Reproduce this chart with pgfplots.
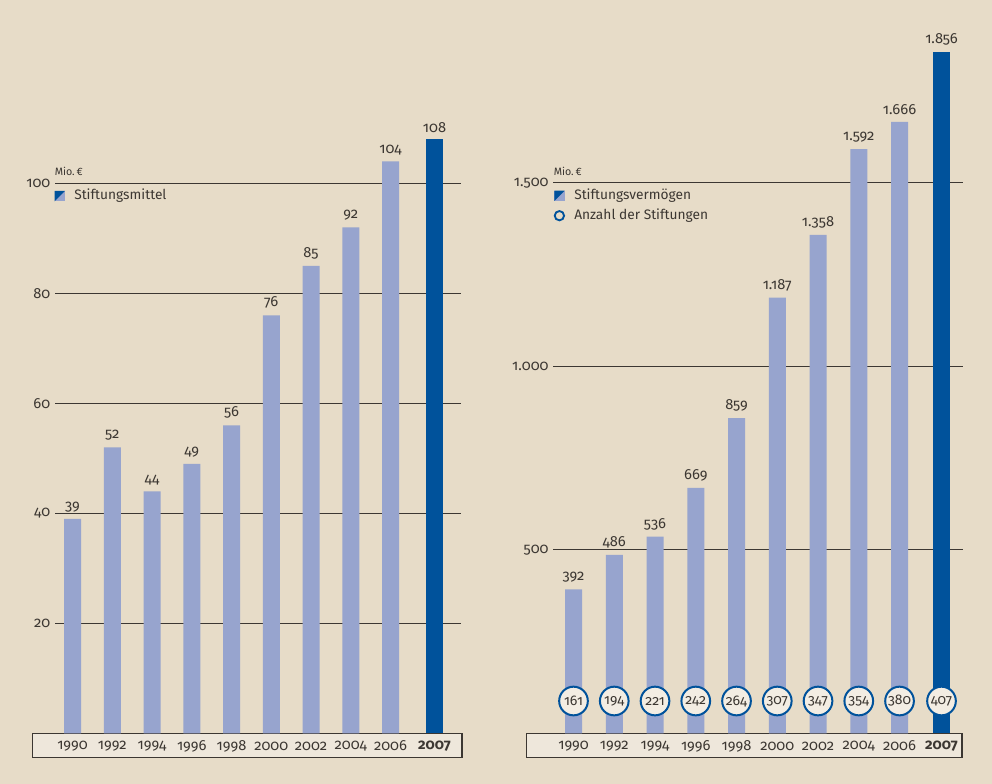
\documentclass[border=0pt]{standalone}
\usepackage{fontspec}
\setmainfont{Fira Sans}[Numbers=OldStyle]
\usepackage{pgfplots}
\pgfplotsset{compat=1.18}

\definecolor{bg}{RGB}{231,220,200}
\definecolor{boxfill}{RGB}{238,231,219}
\definecolor{barlight}{RGB}{151,164,206}
\definecolor{bardark}{RGB}{0,82,155}
\definecolor{ink}{RGB}{60,55,50}
\definecolor{circfill}{RGB}{243,237,227}

\pgfplotsset{
  panel/.style={
    scale only axis, clip=false,
    axis line style={draw=none},
    major tick length=0pt,
    ymin=0, ymajorgrids,
    grid style={ink, line width=0.9pt},
    tick label style={font=\fontsize{11}{13}\selectfont, text=ink},
    /pgf/number format/assume math mode=true,
    /pgf/number format/1000 sep={.},
    xticklabel style={anchor=center, yshift=-9.5pt},
  },
  lightbar/.style={ybar, bar width=12.75pt, bar shift=0pt, fill=barlight, draw=none,
    nodes near coords, every node near coord/.append style={font=\fontsize{11}{13}\selectfont, text=ink, yshift=1.5pt}},
  darkbar/.style={lightbar, fill=bardark},
}

\begin{document}
\begin{tikzpicture}
\fill[bg] (0,0) rectangle (744pt,-588pt);

\begin{scope}[x=0.75pt, y=-0.75pt]
  % boxes under the year labels
  \draw[ink, line width=0.9pt, fill=boxfill] (32.3,733.3) rectangle (462,757.3);
  \draw[ink, line width=0.9pt, fill=boxfill] (526.3,733.3) rectangle (962,757.3);
  % left legend
  \node[anchor=west, inner sep=0pt, text=ink, font=\fontsize{8}{9}\selectfont] at (54.5,171) {Mio.\,€};
  \fill[barlight] (54.5,191) rectangle (65,201.5);
  \fill[bardark] (54.5,191) -- (65,191) -- (54.5,201.5) -- cycle;
  \node[anchor=west, inner sep=0pt, text=ink, font=\fontsize{10.3}{12}\selectfont] at (74,196) {Stiftungsmittel};
  % right legend
  \node[anchor=west, inner sep=0pt, text=ink, font=\fontsize{8}{9}\selectfont] at (553.5,171) {Mio.\,€};
  \fill[barlight] (554.3,190.7) rectangle (564.6,201);
  \fill[bardark] (554.3,190.7) -- (564.6,190.7) -- (554.3,201) -- cycle;
  \node[anchor=west, inner sep=0pt, text=ink, font=\fontsize{10.3}{12}\selectfont] at (574,196) {Stiftungsvermögen};
  \draw[bardark, line width=1.4pt] (559.4,215.7) circle[radius=3.5pt];
  \node[anchor=west, inner sep=0pt, text=ink, font=\fontsize{10.3}{12}\selectfont] at (574,216) {Anzahl der Stiftungen};
\end{scope}

% left: Stiftungsmittel (Mio. EUR)
\begin{axis}[panel,
  at={(41.25pt,-549.975pt)}, anchor=south west,
  width=304.5pt, height=453.75pt,
  xmin=-0.4403, xmax=9.773, ymax=110,
  ytick={20,40,60,80,100},
  xtick={0,1,2,3,4,5,6,7,8,9.107},
  xticklabels={1990,1992,1994,1996,1998,2000,2002,2004,2006,\textbf{2007}},
]
\addplot[lightbar] coordinates {(0,39) (1,52) (2,44) (3,49) (4,56) (5,76) (6,85) (7,92) (8,104)};
\addplot[darkbar] coordinates {(9.107,108)};
\end{axis}

% right: Stiftungsvermoegen (Mio. EUR) and Anzahl der Stiftungen
\begin{axis}[panel,
  at={(414.975pt,-549.975pt)}, anchor=south west,
  width=307.3pt, height=522.98pt,
  xmin=-0.4957, xmax=9.558, ymax=1900,
  ytick={500,1000,1500},
  xtick={0,1,2,3,4,5,6,7,8,9.03},
  xticklabels={1990,1992,1994,1996,1998,2000,2002,2004,2006,\textbf{2007}},
]
\addplot[lightbar] coordinates {(0,392) (1,486) (2,536) (3,669) (4,859) (5,1187) (6,1358) (7,1592) (8,1666)};
\addplot[darkbar] coordinates {(9.03,1856)};
\addplot[only marks, mark=none, nodes near coords, point meta=explicit symbolic,
  every node near coord/.append style={circle, draw=bardark, line width=1.5pt, fill=circfill,
    minimum size=21.5pt, inner sep=0pt, anchor=center, text=ink, font=\fontsize{10.5}{12}\selectfont}]
  table[meta=n] {
x y n
0 88 161
1 88 194
2 88 221
3 88 242
4 88 264
5 88 307
6 88 347
7 88 354
8 88 380
9.03 88 407
};
\end{axis}

\pgfresetboundingbox
\path (0,0) rectangle (744pt,-588pt);
\end{tikzpicture}
\end{document}
